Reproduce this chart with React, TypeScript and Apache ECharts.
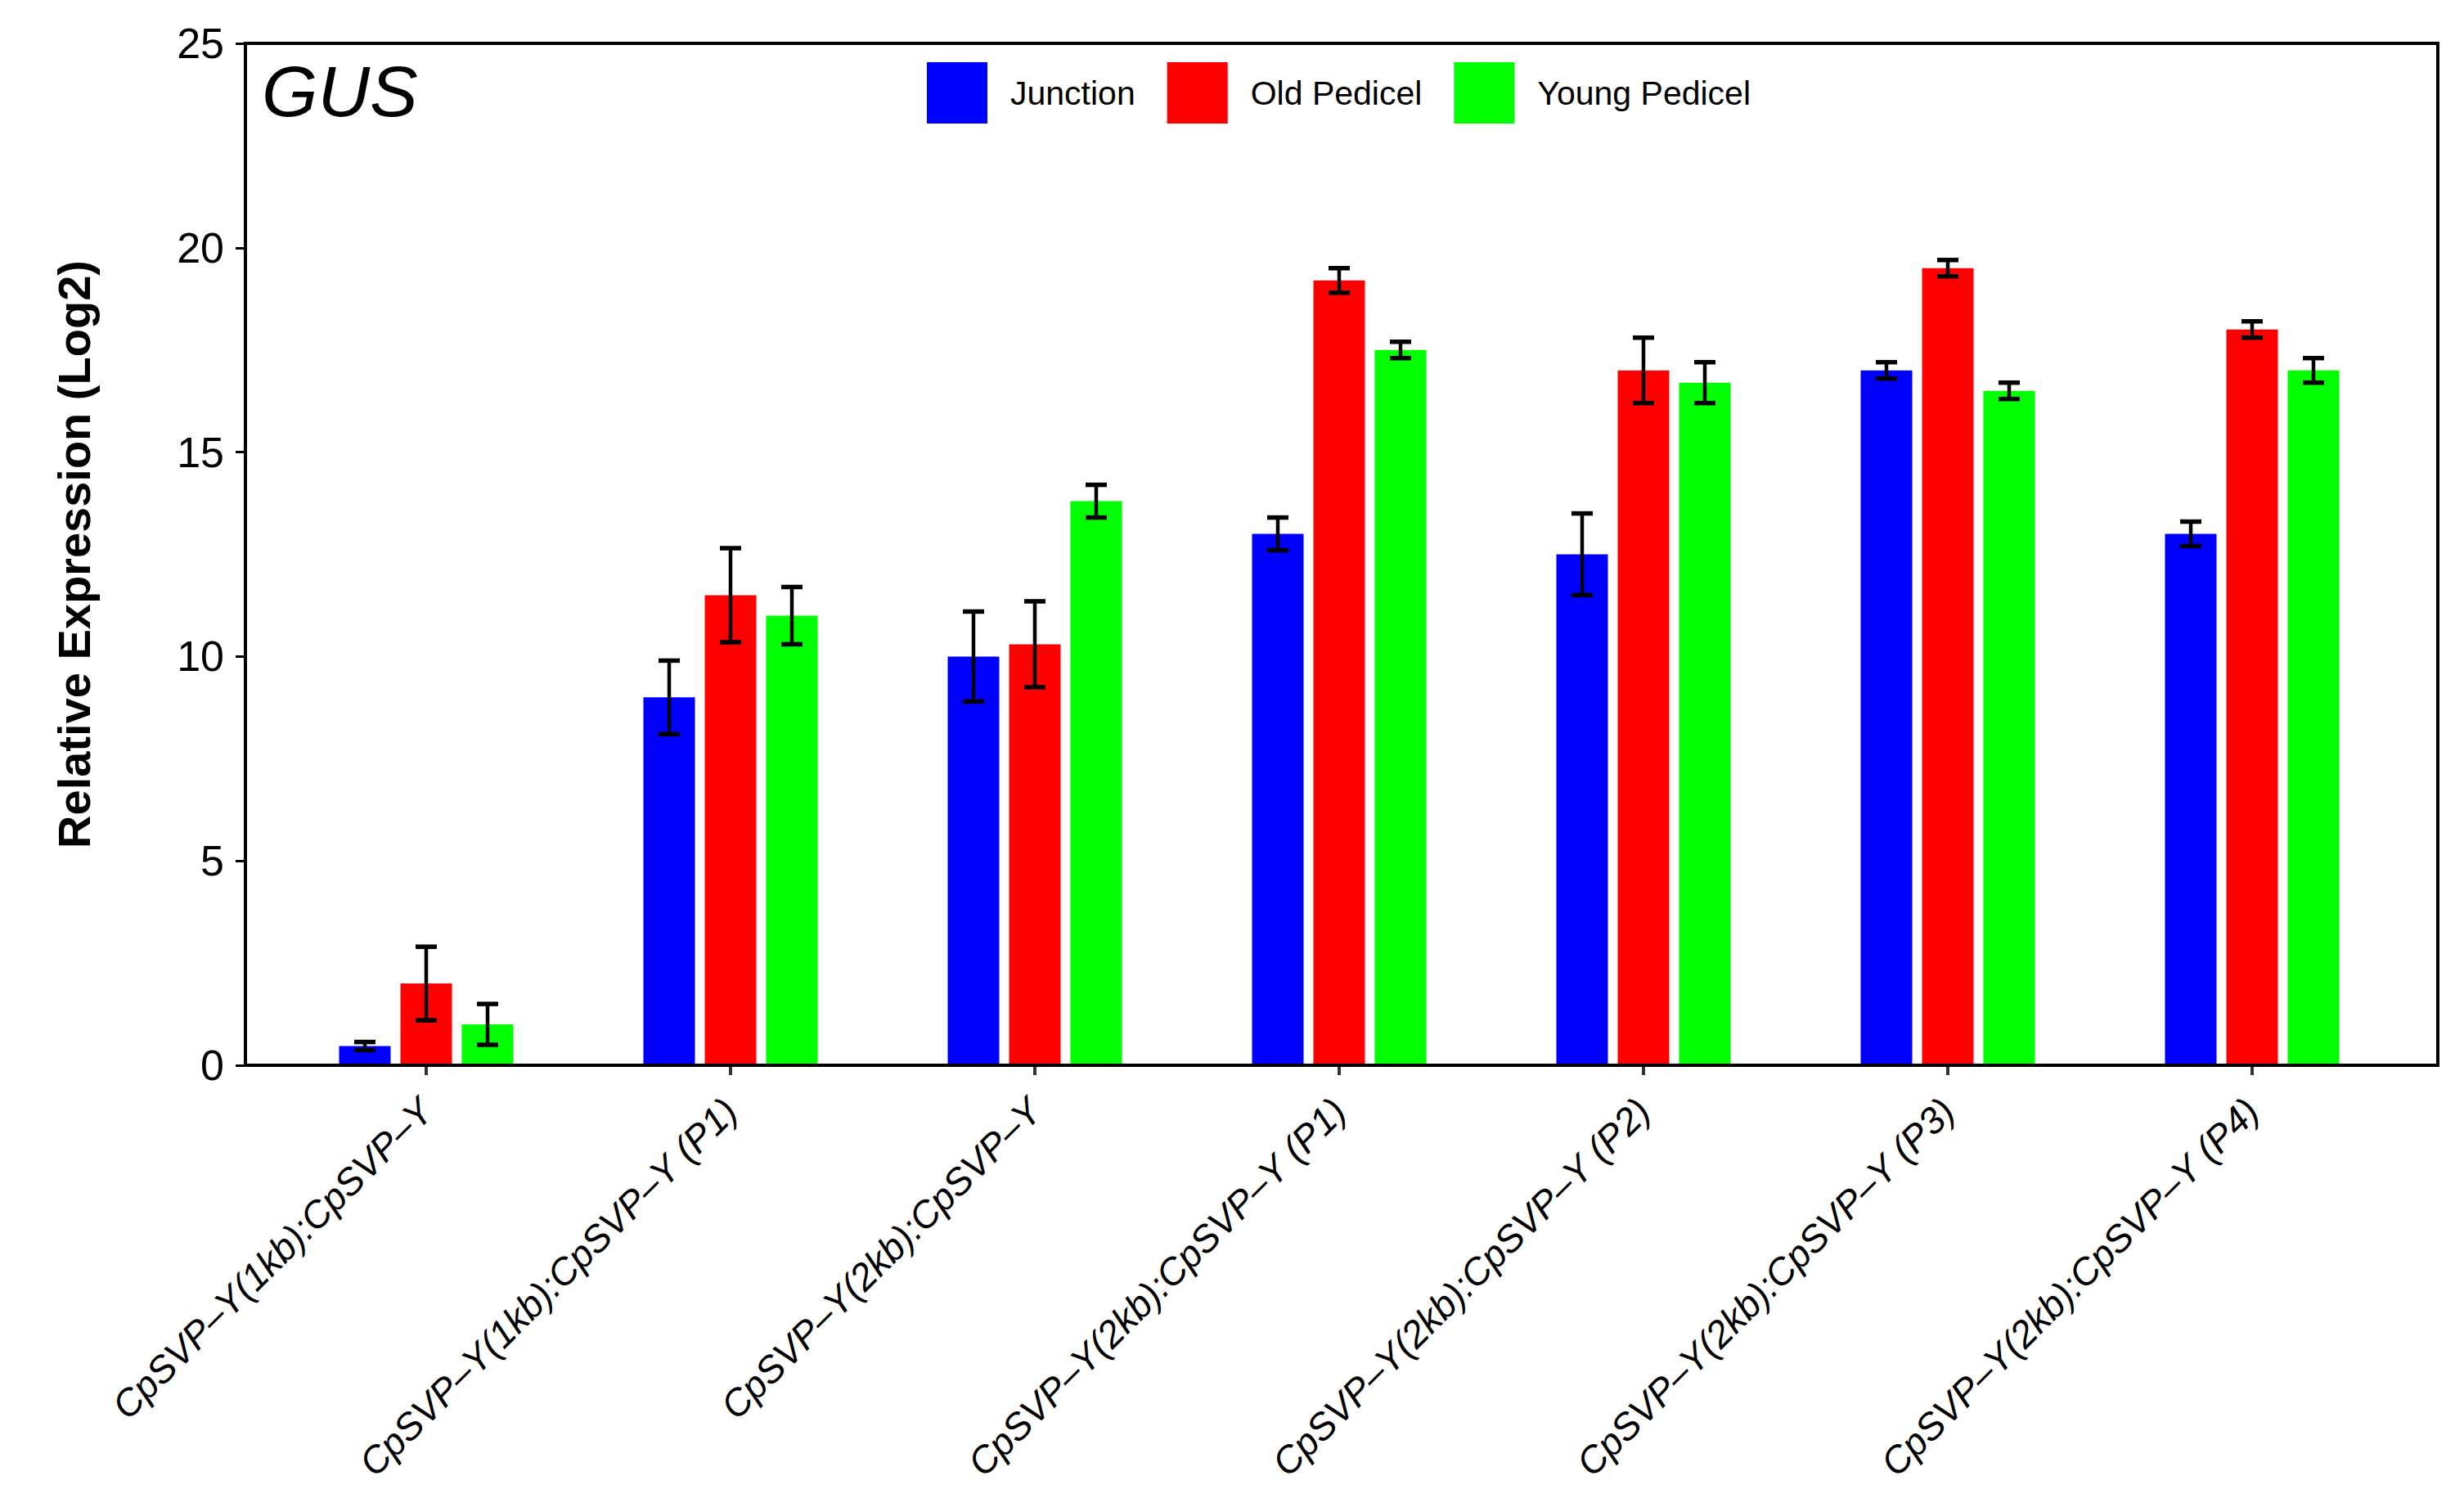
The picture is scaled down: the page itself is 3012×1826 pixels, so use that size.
import React, { useEffect, useRef } from "react";
import * as echarts from "echarts";

const categories = [
  "CpSVP–Y(1kb):CpSVP–Y",
  "CpSVP–Y(1kb):CpSVP–Y (P1)",
  "CpSVP–Y(2kb):CpSVP–Y",
  "CpSVP–Y(2kb):CpSVP–Y (P1)",
  "CpSVP–Y(2kb):CpSVP–Y (P2)",
  "CpSVP–Y(2kb):CpSVP–Y (P3)",
  "CpSVP–Y(2kb):CpSVP–Y (P4)",
];
const seriesNames = ["Junction", "Old Pedicel", "Young Pedicel"];
const seriesColors = ["#0000FF", "#FF0000", "#00FF00"];

const junction = [0.47, 9.0, 10.0, 13.0, 12.5, 17.0, 13.0];
const junctionErr = [0.1, 0.9, 1.1, 0.4, 1.0, 0.2, 0.3];
const oldPedicel = [2.0, 11.5, 10.3, 19.2, 17.0, 19.5, 18.0];
const oldPedicelErr = [0.9, 1.15, 1.05, 0.3, 0.8, 0.2, 0.2];
const youngPedicel = [1.0, 11.0, 13.8, 17.5, 16.7, 16.5, 17.0];
const youngPedicelErr = [0.5, 0.7, 0.4, 0.2, 0.5, 0.2, 0.3];

const yMin = 0;
const yMax = 25;
const yInterval = 5;

const panelLabel = "GUS";
const yTitle = "Relative Expression (Log2)";

const FONT = "'Liberation Sans', Arial, Helvetica, sans-serif";
const BAR_W = 63;
const BAR_GAP = 12;

export default function App() {
  const ref = useRef<HTMLDivElement>(null);

  useEffect(() => {
    document.body.style.margin = "0";
    if (!ref.current) return;
    const chart = echarts.init(ref.current, undefined, { renderer: "svg" });

    const values = [junction, oldPedicel, youngPedicel];
    const errs = [junctionErr, oldPedicelErr, youngPedicelErr];

    const barSeries = seriesNames.map((name, i) => ({
      name,
      type: "bar",
      xAxisIndex: 0,
      yAxisIndex: 0,
      data: values[i],
      barWidth: BAR_W,
      barGap: `${(BAR_GAP / BAR_W) * 100}%`,
      itemStyle: { color: seriesColors[i] },
      z: 2,
    }));

    const errSeries = seriesNames.map((name, i) => ({
      name: name + " error",
      type: "custom",
      xAxisIndex: 0,
      yAxisIndex: 0,
      z: 5,
      encode: { x: 0, y: 1 },
      data: values[i].map((v, k) => [k, v, errs[i][k]]),
      renderItem: (params: any, api: any) => {
        const c = api.value(0);
        const v = api.value(1);
        const e = api.value(2);
        const offset = (i - 1) * (BAR_W + BAR_GAP);
        const top = api.coord([c, v + e]);
        const bot = api.coord([c, v - e]);
        const x = top[0] + offset;
        const cap = 13;
        const st = { stroke: "#000", lineWidth: 4.5 };
        const capSt = { stroke: "#000", lineWidth: 5.5 };
        return {
          type: "group",
          children: [
            { type: "line", shape: { x1: x, y1: top[1], x2: x, y2: bot[1] }, style: st },
            { type: "line", shape: { x1: x - cap, y1: top[1], x2: x + cap, y2: top[1] }, style: capSt },
            { type: "line", shape: { x1: x - cap, y1: bot[1], x2: x + cap, y2: bot[1] }, style: capSt },
          ],
        };
      },
    }));

    chart.setOption({
      animation: false,
      backgroundColor: "#ffffff",
      textStyle: { fontFamily: FONT, color: "#000" },
      grid: [
        { left: 335, right: 73, top: 53, bottom: 524, containLabel: false },
        {
          left: 300,
          right: 32,
          top: 53,
          bottom: 524,
          show: true,
          borderColor: "#000",
          borderWidth: 4,
          backgroundColor: "transparent",
          z: 3,
        },
      ],
      legend: {
        data: seriesNames,
        left: 1128,
        top: 71,
        itemWidth: 74,
        itemHeight: 75,
        itemGap: 39,
        icon: "rect",
        textStyle: { fontSize: 41, color: "#000", fontFamily: FONT, padding: [0, 0, 0, 23] },
      },
      xAxis: [
        {
          type: "category",
          gridIndex: 0,
          data: categories,
          axisLine: { show: false },
          axisTick: {
            show: true,
            alignWithLabel: true,
            length: 12,
            lineStyle: { color: "#333", width: 4 },
          },
          axisLabel: {
            interval: 0,
            rotate: 45,
            margin: 48,
            fontSize: 46,
            fontStyle: "italic",
            color: "#000",
            fontFamily: FONT,
          },
          splitLine: { show: false },
        },
        { type: "category", gridIndex: 1, show: false, data: categories },
      ],
      yAxis: [
        {
          type: "value",
          gridIndex: 0,
          min: yMin,
          max: yMax,
          interval: yInterval,
          offset: 35,
          name: yTitle,
          nameLocation: "middle",
          nameGap: 182,
          nameTextStyle: {
            fontSize: 56,
            fontWeight: "bold",
            color: "#000",
            fontFamily: FONT,
          },
          axisLine: { show: false },
          axisTick: { show: true, length: 12, lineStyle: { color: "#000", width: 3 } },
          axisLabel: { fontSize: 52, margin: 26, color: "#000", fontFamily: FONT },
          splitLine: { show: false },
        },
        { type: "value", gridIndex: 1, show: false, min: yMin, max: yMax },
      ],
      graphic: [
        {
          type: "text",
          left: 320,
          top: 67,
          style: {
            text: panelLabel,
            font: `italic 88px ${FONT}`,
            fill: "#000",
          },
        },
      ],
      series: [...barSeries, ...errSeries],
    });

    return () => chart.dispose();
  }, []);

  return <div ref={ref} style={{ width: 3012, height: 1826 }} />;
}
